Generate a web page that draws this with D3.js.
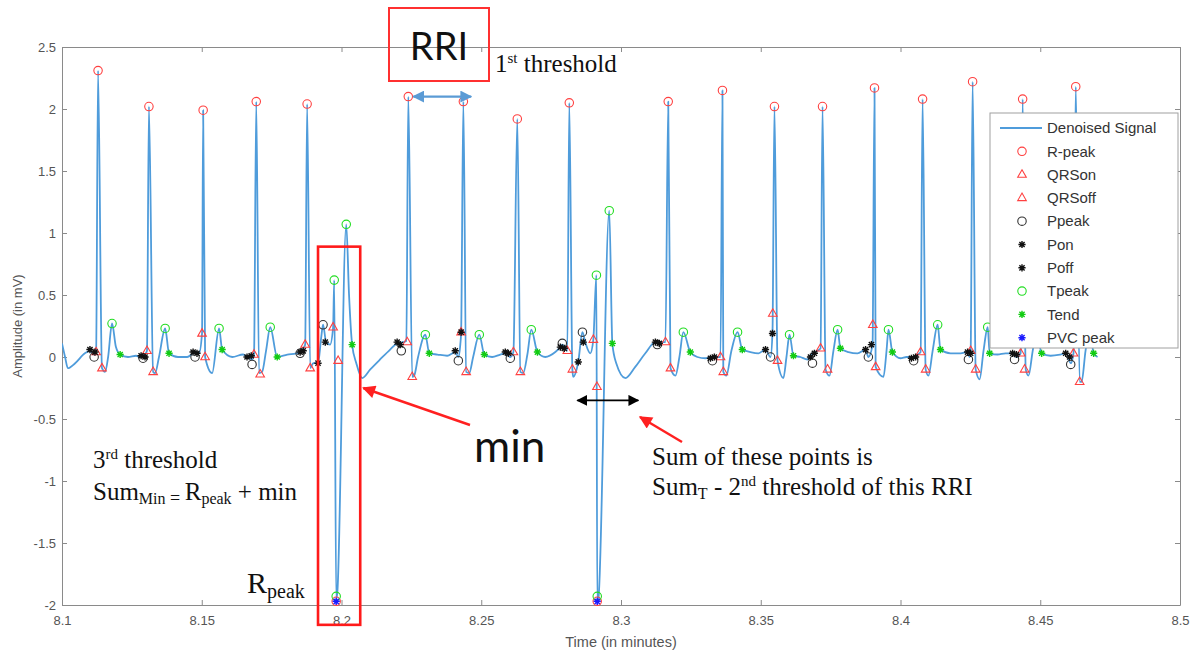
<!DOCTYPE html>
<html>
<head>
<meta charset="utf-8">
<script src="https://cdn.jsdelivr.net/npm/d3@7"></script>
<style>
body { margin: 0; background: #fff; }
</style>
</head>
<body>
<svg id="chart" width="1197" height="655"></svg>
<script>
// denoised ECG trace, [time in minutes, amplitude in mV]
var signal = [
  [8.1000,0.11],[8.1011,0.0],[8.1021,-0.09],[8.1047,-0.05],[8.1082,0.03],[8.1100,0.05],[8.1115,0.02],[8.1122,0.04],[8.1129,2.31],[8.1143,-0.09],[8.1154,-0.12],[8.1165,0.0],[8.1179,0.27],[8.1193,0.08],[8.1208,0.02],[8.1236,0.0],[8.1265,0.01],
  [8.1279,0.0],[8.1290,0.01],[8.1297,0.02],[8.1304,0.05],[8.1311,2.02],[8.1326,-0.12],[8.1333,-0.13],[8.1347,0.0],[8.1369,0.23],[8.1383,0.03],[8.1415,0.0],[8.1448,0.0],
  [8.1469,0.03],[8.1480,0.04],[8.1490,0.03],[8.1501,0.19],[8.1505,1.99],[8.1512,0.0],[8.1537,-0.13],[8.1562,0.23],[8.1573,0.06],[8.1609,0.0],[8.1648,0.02],
  [8.1662,0.0],[8.1680,-0.02],[8.1687,0.02],[8.1695,2.06],[8.1705,-0.13],[8.1716,-0.12],[8.1730,0.05],[8.1745,0.24],[8.1770,0.0],[8.1806,0.02],[8.1838,0.03],
  [8.1852,0.04],[8.1870,0.1],[8.1877,2.04],[8.1888,-0.09],[8.1899,-0.05],[8.1916,-0.05],[8.1927,0.15],[8.1934,0.26],[8.1945,0.12],[8.1959,0.1],[8.1970,0.24],[8.1974,0.62],[8.1981,-1.95],[8.1985,-1.9],[8.2017,1.07],[8.2027,0.5],[8.2038,0.1],[8.2053,-0.05],[8.2074,-0.17],[8.2103,-0.1],[8.2138,-0.02],[8.2174,0.06],[8.2199,0.11],
  [8.2221,0.12],[8.2232,0.13],[8.2239,2.1],[8.2253,-0.16],[8.2260,-0.15],[8.2274,0.0],[8.2300,0.18],[8.2314,0.03],[8.2343,0.02],[8.2378,0.01],
  [8.2407,0.04],[8.2418,0.0],[8.2425,0.1],[8.2428,0.2],[8.2436,2.06],[8.2446,-0.12],[8.2457,-0.13],[8.2471,0.0],[8.2493,0.18],[8.2511,0.02],[8.2539,0.0],[8.2568,0.02],
  [8.2586,0.03],[8.2604,0.0],[8.2615,0.04],[8.2629,1.92],[8.2640,-0.12],[8.2650,-0.13],[8.2665,0.02],[8.2679,0.22],[8.2701,0.04],[8.2729,0.0],[8.2765,0.04],
  [8.2783,0.08],[8.2790,0.1],[8.2808,0.05],[8.2815,2.05],[8.2826,-0.1],[8.2829,-0.16],[8.2847,-0.04],[8.2862,0.2],[8.2872,0.12],[8.2890,0.03],[8.2901,0.14],[8.2912,0.66],[8.2915,-1.97],[8.2919,-1.95],[8.2958,1.18],[8.2969,0.11],[8.2983,-0.05],[8.3016,-0.17],[8.3051,-0.08],[8.3087,0.03],[8.3123,0.12],[8.3148,0.12],
  [8.3159,0.12],[8.3169,2.06],[8.3177,-0.09],[8.3195,-0.15],[8.3209,0.0],[8.3223,0.2],[8.3248,0.04],[8.3273,0.0],[8.3302,-0.01],
  [8.3327,0.0],[8.3341,0.0],[8.3356,0.0],[8.3363,2.15],[8.3366,-0.12],[8.3377,-0.15],[8.3395,0.05],[8.3417,0.2],[8.3434,0.06],[8.3463,0.04],[8.3492,0.03],
  [8.3517,0.06],[8.3535,0.0],[8.3542,0.2],[8.3549,2.02],[8.3560,-0.03],[8.3581,-0.17],[8.3592,0.0],[8.3603,0.18],[8.3617,0.01],[8.3642,0.0],[8.3667,-0.02],
  [8.3685,0.03],[8.3703,0.05],[8.3714,0.07],[8.3721,2.02],[8.3732,-0.1],[8.3746,-0.15],[8.3760,0.05],[8.3775,0.22],[8.3785,0.07],[8.3814,0.04],[8.3846,0.03],
  [8.3875,0.06],[8.3885,0.0],[8.3900,0.1],[8.3907,2.17],[8.3911,-0.08],[8.3939,-0.16],[8.3950,0.05],[8.3957,0.22],[8.3971,0.04],[8.4000,-0.01],[8.4022,0.0],
  [8.4047,0.0],[8.4061,0.02],[8.4072,0.04],[8.4079,2.08],[8.4090,-0.1],[8.4100,-0.15],[8.4115,0.05],[8.4133,0.26],[8.4143,0.06],[8.4179,0.03],[8.4215,0.03],
  [8.4240,0.04],[8.4247,0.0],[8.4251,0.05],[8.4258,2.22],[8.4269,-0.1],[8.4283,-0.18],[8.4297,0.05],[8.4312,0.24],[8.4319,0.03],[8.4347,0.02],[8.4376,0.03],
  [8.4401,0.03],[8.4415,0.0],[8.4430,0.03],[8.4437,2.08],[8.4448,-0.1],[8.4458,-0.15],[8.4473,0.05],[8.4487,0.22],[8.4505,0.03],[8.4537,0.01],[8.4573,0.02],
  [8.4594,0.03],[8.4609,-0.05],[8.4619,0.03],[8.4627,2.18],[8.4641,-0.2],[8.4648,-0.2],[8.4662,0.05],[8.4677,0.22],[8.4691,0.03],[8.4705,0.0]
];

var rPeak = [[8.1129,2.31],[8.1311,2.02],[8.1505,1.99],[8.1695,2.06],[8.1877,2.04],[8.1981,-1.97],[8.2239,2.1],[8.2436,2.06],[8.2629,1.92],[8.2815,2.05],[8.2915,-1.97],[8.3169,2.06],[8.3363,2.15],[8.3549,2.02],[8.3721,2.02],[8.3907,2.17],[8.4079,2.08],[8.4258,2.22],[8.4437,2.08],[8.4627,2.18]];
var qrsOn = [[8.1122,0.04],[8.1304,0.05],[8.1501,0.19],[8.1687,0.02],[8.1870,0.1],[8.1970,0.24],[8.2235,0.12],[8.2428,0.2],[8.2615,0.04],[8.2808,0.05],[8.2901,0.14],[8.3159,0.12],[8.3356,0.0],[8.3543,0.35],[8.3714,0.07],[8.3901,0.26],[8.4072,0.04],[8.4251,0.05],[8.4430,0.03],[8.4619,0.03]];
var qrsOff = [[8.1143,-0.09],[8.1326,-0.12],[8.1512,0.0],[8.1709,-0.14],[8.1888,-0.09],[8.1988,-0.03],[8.2253,-0.16],[8.2446,-0.12],[8.2640,-0.12],[8.2826,-0.1],[8.2914,-0.24],[8.3177,-0.09],[8.3366,-0.12],[8.3560,-0.03],[8.3739,-0.1],[8.3911,-0.08],[8.4090,-0.1],[8.4269,-0.1],[8.4444,-0.1],[8.4641,-0.2]];
var pPeak = [[8.1115,0.0],[8.1290,-0.01],[8.1476,0.0],[8.1680,-0.06],[8.1852,0.03],[8.1934,0.26],[8.2214,0.05],[8.2418,-0.03],[8.2604,-0.01],[8.2790,0.11],[8.2862,0.2],[8.3130,0.1],[8.3327,-0.03],[8.3535,0.0],[8.3685,-0.05],[8.3885,0.0],[8.4047,-0.03],[8.4243,-0.02],[8.4408,-0.02],[8.4609,-0.06]];
var pOn = [[8.1100,0.06],[8.1283,0.01],[8.1469,0.04],[8.1662,0.0],[8.1852,0.04],[8.1942,0.12],[8.2199,0.12],[8.2407,0.05],[8.2586,0.04],[8.2783,0.08],[8.2865,0.12],[8.3123,0.12],[8.3320,-0.01],[8.3517,0.06],[8.3678,0.0],[8.3875,0.06],[8.4039,-0.01],[8.4240,0.04],[8.4401,0.03],[8.4591,0.03]];
var pOff = [[8.1118,0.04],[8.1297,0.0],[8.1483,0.03],[8.1677,0.01],[8.1863,0.05],[8.1916,-0.05],[8.2210,0.1],[8.2428,0.2],[8.2597,0.03],[8.2797,0.07],[8.2847,-0.04],[8.3137,0.11],[8.3334,0.0],[8.3542,0.19],[8.3692,0.03],[8.3896,0.1],[8.4054,0.0],[8.4251,0.03],[8.4415,0.02],[8.4605,0.0]];
var tPeak = [[8.1179,0.27],[8.1369,0.23],[8.1562,0.23],[8.1745,0.24],[8.1974,0.62],[8.1981,-1.93],[8.2017,1.07],[8.2300,0.18],[8.2493,0.18],[8.2679,0.22],[8.2912,0.66],[8.2915,-1.93],[8.2958,1.18],[8.3223,0.2],[8.3417,0.2],[8.3603,0.18],[8.3775,0.22],[8.3957,0.22],[8.4133,0.26],[8.4312,0.24],[8.4487,0.22],[8.4677,0.22]];
var tEnd = [[8.1208,0.02],[8.1383,0.03],[8.1573,0.06],[8.1770,0.0],[8.2038,0.1],[8.2314,0.03],[8.2511,0.02],[8.2701,0.04],[8.2969,0.11],[8.3248,0.04],[8.3434,0.06],[8.3617,0.01],[8.3785,0.07],[8.3971,0.04],[8.4143,0.06],[8.4319,0.03],[8.4505,0.03],[8.4691,0.03]];
var pvcPeak = [[8.1981,-1.97],[8.2915,-1.97]];

var xTicks = [8.1, 8.15, 8.2, 8.25, 8.3, 8.35, 8.4, 8.45, 8.5];
var yTicks = [-2, -1.5, -1, -0.5, 0, 0.5, 1, 1.5, 2, 2.5];
var legendNames = ["Denoised Signal", "R-peak", "QRSon", "QRSoff", "Ppeak", "Pon", "Poff", "Tpeak", "Tend", "PVC peak"];

var plotL = 62, plotR = 1180, plotT = 47, plotB = 605;
var svg = d3.select("#chart");

var x = d3.scaleLinear().domain([8.1, 8.5]).range([plotL, plotR]);
var y = d3.scaleLinear().domain([-2, 2.5]).range([plotB, plotT]);

var axisColor = "#8a8a8a";
var tickFont = "'Liberation Sans', Arial, sans-serif";

// axes, MATLAB style box with inward ticks
var gx = svg.append("g").attr("transform", "translate(0," + plotB + ")")
  .call(d3.axisBottom(x).tickValues(xTicks).tickSizeInner(-5).tickSizeOuter(0).tickPadding(11).tickFormat(d => String(d)));
var gy = svg.append("g").attr("transform", "translate(" + plotL + ",0)")
  .call(d3.axisLeft(y).tickValues(yTicks).tickSizeInner(-5).tickSizeOuter(0).tickPadding(6).tickFormat(d => String(d)));
var gt = svg.append("g").attr("transform", "translate(0," + plotT + ")")
  .call(d3.axisTop(x).tickValues(xTicks).tickSizeInner(-5).tickSizeOuter(0).tickFormat(""));
var gr = svg.append("g").attr("transform", "translate(" + plotR + ",0)")
  .call(d3.axisRight(y).tickValues(yTicks).tickSizeInner(-5).tickSizeOuter(0).tickFormat(""));

[gx, gy, gt, gr].forEach(function (g) {
  g.selectAll("path.domain").attr("stroke", axisColor);
  g.selectAll(".tick line").attr("stroke", axisColor);
  g.selectAll(".tick text").attr("fill", "#555").style("font-family", tickFont).style("font-size", "13px");
});

svg.append("text")
  .attr("x", (plotL + plotR) / 2).attr("y", 647)
  .attr("text-anchor", "middle")
  .style("font-family", tickFont).style("font-size", "14.5px").attr("fill", "#555")
  .text("Time (in minutes)");

svg.append("text")
  .attr("transform", "translate(22," + (plotT + plotB) / 2 + ") rotate(-90)")
  .attr("text-anchor", "middle")
  .style("font-family", tickFont).style("font-size", "13px").attr("fill", "#555")
  .text("Amplitude (in mV)");

svg.append("clipPath").attr("id", "plotclip")
  .append("rect").attr("x", plotL).attr("y", plotT - 6).attr("width", plotR - plotL).attr("height", plotB - plotT + 12);

var plot = svg.append("g").attr("clip-path", "url(#plotclip)");

var line = d3.line().x(d => x(d[0])).y(d => y(d[1])).curve(d3.curveMonotoneX);
plot.append("path").datum(signal)
  .attr("d", line)
  .attr("fill", "none")
  .attr("stroke", "#4f9cdb")
  .attr("stroke-width", 1.8)
  .attr("stroke-linejoin", "round");

// marker shapes
function shapePath(kind) {
  if (kind == "circle") return d3.symbol(d3.symbolCircle, 56)();
  if (kind == "triangle") return "M0,-4.8L4.3,2.7L-4.3,2.7Z";
  var s = 3.6, a = 2.6;
  return "M" + -s + ",0L" + s + ",0M0," + -s + "L0," + s + "M" + -a + "," + -a + "L" + a + "," + a + "M" + -a + "," + a + "L" + a + "," + -a;
}

var series = [
  { data: rPeak, kind: "circle", color: "#ff4040" },
  { data: qrsOn, kind: "triangle", color: "#ff4040" },
  { data: qrsOff, kind: "triangle", color: "#ff4040" },
  { data: pPeak, kind: "circle", color: "#333333" },
  { data: pOn, kind: "star", color: "#111111" },
  { data: pOff, kind: "star", color: "#111111" },
  { data: tPeak, kind: "circle", color: "#22dd22" },
  { data: tEnd, kind: "star", color: "#11cc11" },
  { data: pvcPeak, kind: "star", color: "#1a1aff" }
];

series.forEach(function (s) {
  plot.append("g").selectAll("path")
    .data(s.data)
    .enter()
    .append("path")
    .attr("d", shapePath(s.kind))
    .attr("transform", d => "translate(" + x(d[0]) + "," + y(d[1]) + ")")
    .attr("fill", "none")
    .attr("stroke", s.color)
    .attr("stroke-width", s.kind == "star" ? 1.4 : 1.1);
});

// legend
var lg = svg.append("g");
lg.append("rect").attr("x", 990).attr("y", 113).attr("width", 188).attr("height", 235)
  .attr("fill", "#fff").attr("stroke", "#a0a0a0").attr("stroke-width", 1);
legendNames.forEach(function (name, i) {
  var ly = 128 + i * 23.3;
  if (i == 0) {
    lg.append("line").attr("x1", 1000).attr("x2", 1042).attr("y1", ly).attr("y2", ly)
      .attr("stroke", "#4f9cdb").attr("stroke-width", 1.8);
  } else {
    var s = series[i - 1];
    lg.append("path").attr("d", shapePath(s.kind))
      .attr("transform", "translate(1022," + ly + ")")
      .attr("fill", "none").attr("stroke", s.color)
      .attr("stroke-width", s.kind == "star" ? 1.4 : 1.1);
  }
  lg.append("text").attr("x", 1047).attr("y", ly).attr("dy", "0.35em")
    .style("font-family", tickFont).style("font-size", "15px").attr("fill", "#333")
    .text(name);
});

// annotations
var defs = svg.append("defs");
function arrowHead(id, color, w, h) {
  defs.append("marker").attr("id", id)
    .attr("viewBox", "0 0 10 10").attr("refX", 9).attr("refY", 5)
    .attr("markerUnits", "userSpaceOnUse")
    .attr("markerWidth", w).attr("markerHeight", h)
    .attr("orient", "auto-start-reverse")
    .append("path").attr("d", "M0,0L10,5L0,10Z").attr("fill", color);
}
arrowHead("ahBlue", "#5b9bd5", 12, 12);
arrowHead("ahBlack", "#000", 11, 11);
arrowHead("ahRed", "#ff2020", 15, 13);

var serif = "'Liberation Serif', 'Times New Roman', serif";
var sans = "Lato, 'Open Sans', sans-serif";

function rich(px, py, size, parts) {
  var t = svg.append("text").attr("x", px).attr("y", py)
    .style("font-family", serif).style("font-size", size + "px").attr("fill", "#111");
  parts.forEach(function (p) {
    t.append("tspan").attr("dy", p.dy || 0).style("font-size", (p.size || size) + "px").text(p.t);
  });
}

// RRI box
svg.append("rect").attr("x", 389).attr("y", 8).attr("width", 100).attr("height", 73)
  .attr("fill", "none").attr("stroke", "#ff3030").attr("stroke-width", 2);
svg.append("text").attr("x", 439).attr("y", 60).attr("text-anchor", "middle")
  .style("font-family", sans).style("font-size", "38px").attr("fill", "#111").text("RRI");
rich(495, 72, 25, [{ t: "1" }, { t: "st", size: 15, dy: -9 }, { t: " threshold", dy: 9 }]);

// RR interval arrow
svg.append("line")
  .attr("x1", x(8.2257)).attr("x2", x(8.2464)).attr("y1", y(2.1)).attr("y2", y(2.1))
  .attr("stroke", "#5b9bd5").attr("stroke-width", 2.2)
  .attr("marker-start", "url(#ahBlue)").attr("marker-end", "url(#ahBlue)");

// PVC box
svg.append("rect")
  .attr("x", x(8.1916)).attr("y", y(0.89))
  .attr("width", x(8.2067) - x(8.1916)).attr("height", y(-2.16) - y(0.89))
  .attr("fill", "none").attr("stroke", "#ff1a1a").attr("stroke-width", 2.6);

// min arrow + label
svg.append("line").attr("x1", 470).attr("y1", 425).attr("x2", x(8.2078)).attr("y2", y(-0.25))
  .attr("stroke", "#ff2020").attr("stroke-width", 2.4).attr("marker-end", "url(#ahRed)");
svg.append("text").attr("x", 474).attr("y", 462)
  .style("font-family", sans).style("font-size", "44px").attr("fill", "#111").text("min");

// sum interval arrow
svg.append("line")
  .attr("x1", x(8.2844)).attr("x2", x(8.3062)).attr("y1", y(-0.35)).attr("y2", y(-0.35))
  .attr("stroke", "#000").attr("stroke-width", 1.8)
  .attr("marker-start", "url(#ahBlack)").attr("marker-end", "url(#ahBlack)");
svg.append("line").attr("x1", 682).attr("y1", 442).attr("x2", 640).attr("y2", 417)
  .attr("stroke", "#ff2020").attr("stroke-width", 2.4).attr("marker-end", "url(#ahRed)");

rich(652, 465, 25, [{ t: "Sum of these points is" }]);
rich(652, 495, 25, [{ t: "Sum" }, { t: "T", size: 16, dy: 4 }, { t: " - 2", dy: -4 }, { t: "nd", size: 15, dy: -9 }, { t: " threshold of this RRI", dy: 9 }]);

rich(93, 468, 25, [{ t: "3" }, { t: "rd", size: 15, dy: -9 }, { t: " threshold", dy: 9 }]);
rich(93, 500, 25, [{ t: "Sum" }, { t: "Min", size: 16, dy: 4 }, { t: " = ", size: 18 }, { t: "R", dy: -4 }, { t: "peak", size: 16, dy: 4 }, { t: " + min", dy: -4 }]);

rich(247, 593, 30, [{ t: "R" }, { t: "peak", size: 20, dy: 5 }]);
</script>
</body>
</html>
